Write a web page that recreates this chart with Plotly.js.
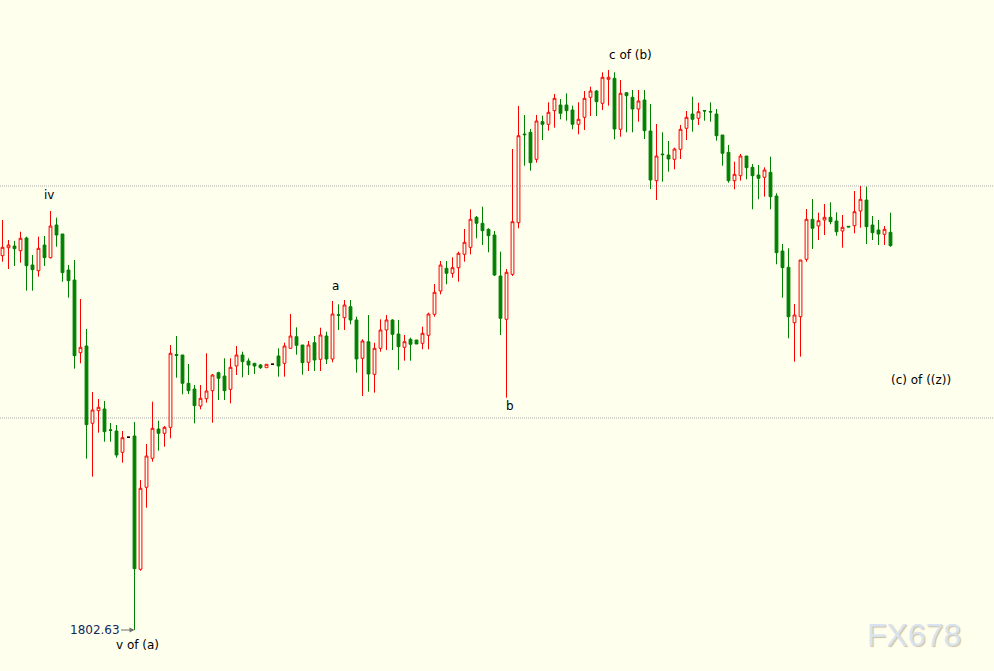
<!DOCTYPE html>
<html><head><meta charset="utf-8">
<script src="https://cdn.plot.ly/plotly-3.0.1.min.js"></script>
<style>html,body{margin:0;padding:0;background:#ffffee;}#chart{width:994px;height:671px;}</style>
</head><body><div id="chart"></div>
<script>
const open=[
1840.06,1840.86,1841.03,1840.56,1841.83,1839.13,1838.56,1841.13,1839.86,1843.13,
1842.23,1838.63,1837.63,1830.36,1831.03,1823.30,1824.56,1824.73,1822.65,1822.53,
1820.40,1821.90,1822.03,1808.70,1816.90,1819.80,1822.73,1822.30,1822.90,1830.18,
1830.13,1827.30,1826.73,1825.03,1825.76,1826.56,1828.36,1828.03,1826.70,1829.03,
1830.13,1829.53,1829.30,1829.13,1828.86,1829.20,1830.03,1829.30,1830.80,1831.96,
1831.13,1829.40,1831.36,1829.70,1832.03,1829.73,1834.16,1833.86,1834.96,1833.63,
1829.80,1831.46,1828.20,1830.80,1832.63,1833.63,1832.23,1830.90,1831.70,1831.63,
1831.30,1832.10,1834.20,1836.53,1838.80,1838.30,1838.86,1840.20,1840.90,1843.90,
1843.30,1842.70,1842.13,1838.03,1833.70,1838.20,1843.36,1852.23,1852.40,1849.70,
1853.46,1853.20,1854.56,1855.13,1855.13,1854.63,1853.20,1853.90,1855.90,1856.53,
1855.30,1857.70,1857.80,1852.70,1856.36,1855.90,1854.73,1855.63,1852.53,1847.56,
1850.23,1850.13,1849.70,1850.70,1852.80,1854.23,1853.80,1854.58,1854.48,1854.23,
1852.13,1850.40,1847.56,1848.06,1850.03,1848.90,1848.13,1847.90,1848.40,1846.03,
1840.53,1838.90,1833.36,1833.96,1839.70,1843.70,1843.03,1843.63,1843.90,1843.53,
1842.53,1843.00,1843.06,1844.53,1845.63,1843.13,1842.63,1842.20,1842.40];
const high=[
1843.63,1841.63,1841.53,1842.46,1841.96,1840.13,1841.96,1842.03,1844.53,1843.86,
1842.23,1839.13,1839.63,1835.73,1832.73,1826.43,1825.73,1825.53,1823.33,1823.13,
1822.53,1821.90,1823.43,1817.63,1821.23,1825.46,1823.56,1823.03,1831.13,1832.03,
1830.13,1829.23,1827.13,1827.13,1830.30,1828.23,1828.46,1829.80,1829.80,1831.03,
1830.46,1829.80,1829.33,1829.23,1829.20,1829.20,1830.80,1831.36,1834.23,1832.90,
1831.13,1831.53,1832.03,1832.86,1832.46,1835.53,1835.20,1835.63,1835.63,1833.96,
1831.70,1834.13,1831.36,1833.70,1834.13,1833.70,1833.63,1832.13,1831.86,1831.63,
1832.96,1834.36,1837.23,1839.53,1839.53,1839.90,1840.46,1842.73,1844.70,1844.03,
1844.96,1842.80,1842.53,1840.46,1838.73,1850.73,1855.03,1854.13,1852.73,1854.13,
1854.06,1855.40,1856.23,1855.73,1856.30,1855.06,1855.40,1856.53,1856.96,1856.63,
1858.40,1858.63,1858.40,1857.63,1856.36,1856.63,1856.63,1856.63,1855.23,1853.23,
1852.40,1851.53,1850.86,1853.13,1854.53,1855.96,1855.36,1854.63,1855.40,1854.73,
1852.13,1851.13,1849.46,1850.23,1850.03,1849.23,1849.13,1848.90,1849.96,1846.30,
1841.23,1840.80,1835.23,1839.63,1844.73,1845.73,1844.36,1845.23,1845.40,1844.40,
1844.13,1843.00,1846.53,1847.03,1846.96,1844.03,1843.63,1843.03,1844.36];
const low=[
1839.46,1838.73,1839.03,1839.36,1836.56,1836.56,1837.96,1839.03,1839.78,1840.96,
1837.46,1835.86,1828.76,1829.30,1819.76,1817.96,1822.36,1821.46,1821.46,1819.86,
1819.36,1821.90,1802.63,1808.56,1814.86,1819.46,1820.56,1820.96,1821.80,1827.86,
1826.20,1826.23,1823.30,1824.70,1825.36,1823.36,1825.63,1825.63,1825.30,1828.13,
1827.90,1828.13,1828.23,1828.73,1828.86,1829.20,1827.96,1827.96,1830.80,1830.16,
1828.16,1828.53,1828.53,1828.53,1829.23,1829.40,1832.63,1832.63,1833.20,1828.36,
1826.03,1826.46,1826.36,1830.46,1830.63,1830.63,1828.63,1829.56,1829.56,1831.23,
1830.70,1830.70,1833.96,1836.20,1837.20,1837.86,1837.46,1839.46,1840.20,1841.80,
1841.13,1840.40,1838.03,1832.13,1825.86,1838.03,1842.80,1849.06,1848.56,1849.36,
1851.63,1852.56,1852.86,1853.70,1853.56,1852.70,1852.20,1852.63,1854.03,1854.03,
1854.63,1855.06,1851.70,1851.96,1852.40,1852.40,1853.46,1851.73,1846.73,1845.63,
1847.46,1848.46,1848.70,1849.73,1851.63,1852.46,1853.13,1853.56,1853.46,1851.56,
1849.06,1847.36,1846.70,1847.56,1847.70,1844.70,1845.70,1845.96,1844.70,1839.20,
1835.86,1831.80,1829.46,1829.96,1839.46,1840.73,1841.63,1842.13,1843.20,1842.06,
1840.86,1842.93,1842.30,1842.86,1841.23,1841.63,1841.13,1841.13,1840.96];
const close=[
1840.90,1841.13,1840.76,1841.80,1839.06,1838.66,1840.80,1839.86,1843.03,1842.13,
1838.36,1837.56,1830.06,1830.90,1823.16,1824.63,1824.90,1822.46,1822.60,1820.13,
1821.86,1821.90,1808.76,1816.80,1820.03,1822.80,1822.30,1822.90,1830.30,1830.08,
1827.30,1826.56,1825.06,1825.80,1826.53,1828.13,1827.80,1826.56,1828.90,1830.13,
1829.46,1829.13,1829.03,1828.86,1829.20,1829.20,1829.03,1831.03,1832.03,1831.10,
1829.36,1831.13,1829.63,1832.13,1829.73,1834.23,1834.10,1835.13,1833.63,1829.73,
1831.53,1828.23,1830.80,1832.63,1833.63,1832.20,1830.96,1831.46,1831.20,1831.23,
1832.30,1834.23,1836.40,1839.13,1838.30,1838.86,1840.30,1841.40,1843.70,1843.30,
1842.56,1842.06,1838.13,1833.80,1838.40,1843.46,1852.06,1852.16,1849.36,1853.53,
1853.20,1854.40,1855.80,1854.30,1854.56,1853.20,1853.70,1855.80,1856.53,1855.46,
1857.90,1857.90,1852.73,1856.30,1856.06,1854.73,1855.53,1852.56,1847.63,1850.03,
1850.16,1849.73,1850.73,1852.70,1853.90,1853.70,1854.46,1854.53,1854.43,1852.06,
1850.30,1847.56,1848.20,1850.03,1848.86,1848.06,1847.80,1848.63,1845.96,1840.36,
1838.86,1833.96,1834.13,1839.63,1843.70,1842.80,1843.56,1843.90,1843.46,1842.46,
1842.90,1842.93,1844.46,1845.70,1842.96,1842.36,1842.23,1842.70,1841.06];
const levels=[1847.03,1823.83];
const waveLabels=["iv","a","b","c of (b)","(c) of ((z))","v of (a)"];
const lowText="1802.63";
const watermark="FX678";

const BG="#ffffee";
const idx=open.map((_,i)=>i);
const doji=idx.filter(i=>open[i]===close[i]);
const lowI=low.indexOf(Math.min(...low));
const hiI=high.indexOf(Math.max(...high));

const main={type:'candlestick',x:idx,open:open,high:high,low:low,close:close,
  increasing:{line:{color:'#ff0000',width:1},fillcolor:BG},
  decreasing:{line:{color:'#008000',width:1},fillcolor:'#008000'},
  whiskerwidth:0,hoverinfo:'none',showlegend:false};
const dj={type:'candlestick',x:doji.map(i=>idx[i]),open:doji.map(i=>open[i]),high:doji.map(i=>high[i]),
  low:doji.map(i=>low[i]),close:doji.map(i=>close[i]),
  increasing:{line:{color:'#000000',width:1},fillcolor:'#000000'},
  decreasing:{line:{color:'#000000',width:1},fillcolor:'#000000'},
  whiskerwidth:0,hoverinfo:'none',showlegend:false};

const f={family:'DejaVu Sans',size:12,color:'#000000'};
const ann=[
 {x:8,y:high[8],text:waveLabels[0],showarrow:false,yanchor:'middle',yshift:16,xshift:-2,font:f},
 {x:55,y:high[55],text:waveLabels[1],showarrow:false,yanchor:'middle',yshift:15.5,xshift:2.5,font:f},
 {x:84,y:low[84],text:waveLabels[2],showarrow:false,yanchor:'middle',yshift:-8.5,xshift:3,font:f},
 {x:hiI,y:high[hiI],text:waveLabels[3],showarrow:false,xanchor:'left',yanchor:'middle',yshift:15,xshift:-2,font:f},
 {x:idx[idx.length-1],y:0.4337,yref:'paper',text:waveLabels[4],showarrow:false,xanchor:'left',yanchor:'middle',xshift:-2,font:f},
 {x:lowI,y:low[lowI],text:waveLabels[5],showarrow:false,yanchor:'middle',yshift:-15,xshift:2.5,font:f},
 {x:lowI,y:low[lowI],text:lowText,showarrow:true,ax:-40,ay:0,arrowhead:2,arrowsize:1,arrowwidth:1,arrowcolor:'#707070',standoff:0,
  font:{family:'DejaVu Sans',size:12,color:'#102a5c'}},
 {xref:'paper',yref:'paper',x:0.9195,y:0.0537,xanchor:'center',yanchor:'middle',text:watermark,showarrow:false,
  font:{family:'Liberation Sans',size:32,color:'#d8e3ef',shadow:'1px 1px 1px #cdbfa0'}}
];
const shapes=levels.map(v=>({type:'line',xref:'paper',x0:0,x1:1,y0:v,y1:v,layer:'below',
  line:{color:'#aaaaaa',width:1,dash:'1px,1px'}}));

const layout={width:994,height:671,margin:{l:0,r:0,t:0,b:0},
  paper_bgcolor:BG,plot_bgcolor:BG,showlegend:false,
  xaxis:{range:[-2.5/6,165.25],visible:false,rangeslider:{visible:false},fixedrange:true},
  yaxis:{range:[1798.53,1865.63],visible:false,fixedrange:true},
  boxgap:1/3,annotations:ann,shapes:shapes};
Plotly.newPlot('chart',[main,dj],layout,{staticPlot:true,displayModeBar:false});
</script></body></html>
